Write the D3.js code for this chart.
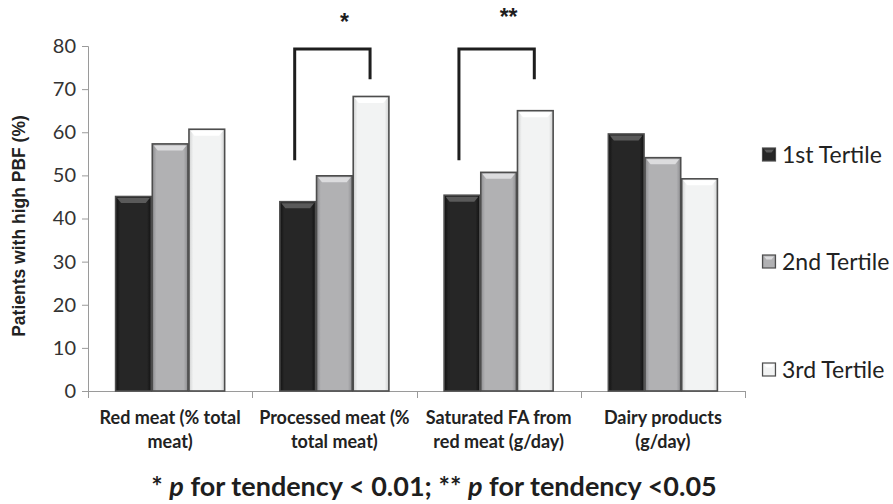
<!DOCTYPE html>
<html><head><meta charset="utf-8">
<script src="https://cdn.jsdelivr.net/npm/d3@7"></script>
<style>body{margin:0;background:#fff}svg{display:block}</style>
</head><body>
<svg id="c" width="893" height="504"></svg>
<script>
const categories = [
  ["Red meat (% total", "meat)"],
  ["Processed meat (%", "total meat)"],
  ["Saturated FA from", "red meat (g/day)"],
  ["Dairy products", "(g/day)"]
];
const seriesNames = ["1st Tertile", "2nd Tertile", "3rd Tertile"];
const tertile1 = [45.1, 43.9, 45.4, 59.6];
const tertile2 = [57.3, 49.9, 50.7, 54.1];
const tertile3 = [60.7, 68.3, 65.0, 49.2];
const yTicks = [0, 10, 20, 30, 40, 50, 60, 70, 80];
// significance brackets: category index, top value, left-leg bottom, right-leg bottom, marker
const brackets = [
  {cat: 1, top: 79.3, left: 53.5, right: 72.3, mark: "*"},
  {cat: 2, top: 79.3, left: 53.5, right: 72.3, mark: "**"}
];
const yTitle = "Patients with high PBF (%)";

const seriesVals = [tertile1, tertile2, tertile3];
const fills = [
  {base: "#262626", hi: "#5a5a5a", side: "#111"},
  {base: "#b1b1b3", hi: "#dcdcde", side: "#8d8d90"},
  {base: "#f2f3f3", hi: "#ffffff", side: "#cfd0d0"}
];

const svg = d3.select("#c");
const L = 88, R = 745, T = 46, B = 391;
const catIdx = categories.map((d, i) => i);
const x0 = d3.scaleBand().domain(catIdx).range([L, R]).paddingInner(0.33).paddingOuter(0.165);
const x1 = d3.scaleBand().domain([0, 1, 2]).range([0, x0.bandwidth()]);
const y = d3.scaleLinear().domain([0, 80]).range([B, T]);

const defs = svg.append("defs");
fills.forEach((f, i) => {
  const g = defs.append("linearGradient").attr("id", "g" + i).attr("x1", "0").attr("x2", "1").attr("y1", "0").attr("y2", "0");
  g.append("stop").attr("offset", "0").attr("stop-color", f.side);
  g.append("stop").attr("offset", "0.12").attr("stop-color", f.base);
  g.append("stop").attr("offset", "0.88").attr("stop-color", f.base);
  g.append("stop").attr("offset", "1").attr("stop-color", f.side);
});

// axes
const yAxis = d3.axisLeft(y).tickValues(yTicks).tickSize(6).tickPadding(6);
const yg = svg.append("g").attr("transform", `translate(${L},0)`).call(yAxis);
yg.select(".domain").attr("stroke", "#9a9a9a");
yg.selectAll(".tick line").attr("stroke", "#9a9a9a");
yg.selectAll(".tick text").attr("font-family", "Lato, 'Open Sans', sans-serif").attr("font-size", 20).attr("fill", "#333");

svg.append("line").attr("x1", L).attr("x2", R).attr("y1", B + 0.5).attr("y2", B + 0.5).attr("stroke", "#9a9a9a");
const bounds = catIdx.map(i => x0(i) - x0.step() * 0.165).concat([R]);
svg.selectAll(".xt").data(bounds).join("line")
  .attr("x1", d => Math.round(d) + 0.5).attr("x2", d => Math.round(d) + 0.5)
  .attr("y1", B).attr("y2", B + 7).attr("stroke", "#9a9a9a");

// bars
const barData = [];
seriesVals.forEach((vals, s) => vals.forEach((v, c) => barData.push({s, c, v})));
const bw = x1.bandwidth();
const gb = svg.append("g");
const bar = gb.selectAll("g").data(barData).join("g")
  .attr("transform", d => `translate(${x0(d.c) + x1(d.s)},0)`);
bar.append("rect")
  .attr("x", 0.5).attr("y", d => y(d.v)).attr("width", bw - 1).attr("height", d => B - y(d.v))
  .attr("fill", d => `url(#g${d.s})`).attr("stroke", "#4d4d4d").attr("stroke-width", 1.6);
bar.append("path")
  .attr("d", d => {
    const t = y(d.v) + 1.5;
    return `M2,${t} L${bw - 2},${t} L${bw - 6},${t + 5} L6,${t + 5} Z`;
  })
  .attr("fill", d => fills[d.s].hi);

// brackets
brackets.forEach(b => {
  const xl = x0(b.cat) + x1(0) + bw / 2 - 3;
  const xr = x0(b.cat) + x1(2) + bw / 2 - 1;
  svg.append("path")
    .attr("d", `M${xl},${y(b.left)} L${xl},${y(b.top)} L${xr},${y(b.top)} L${xr},${y(b.right)}`)
    .attr("fill", "none").attr("stroke", "#1e1e1e").attr("stroke-width", 3);
  svg.append("text").attr("x", (xl + xr) / 2 + 12).attr("y", b.mark.length > 1 ? 25 : 30)
    .attr("text-anchor", "middle").attr("font-family", "'Liberation Sans', Arial, sans-serif")
    .attr("font-weight", "bold").attr("font-size", 23).attr("fill", "#1e1e1e").text(b.mark);
});

// x labels
const xl = svg.append("g").attr("font-family", "Lato, 'Open Sans', sans-serif").attr("font-weight", "bold")
  .attr("font-size", 18).attr("fill", "#222").attr("text-anchor", "middle");
categories.forEach((lines, i) => {
  lines.forEach((ln, j) => {
    xl.append("text").attr("x", x0(i) + x0.bandwidth() / 2).attr("y", 424 + j * 24).text(ln);
  });
});

// y title
svg.append("text").attr("transform", `translate(25,226) rotate(-90)`).attr("text-anchor", "middle")
  .attr("font-family", "'Liberation Sans', Arial, sans-serif").attr("font-weight", "bold")
  .attr("font-size", 17.5).attr("fill", "#222").text(yTitle);

// legend
const ly = [155, 262, 370];
const lg = svg.append("g");
seriesNames.forEach((n, i) => {
  const g = lg.append("g").attr("transform", `translate(762,${ly[i]})`);
  g.append("rect").attr("x", 0.5).attr("y", -7).attr("width", 13).attr("height", 13)
    .attr("fill", `url(#g${i})`).attr("stroke", "#4d4d4d").attr("stroke-width", 1.2);
  g.append("path").attr("d", "M2,-5.5 L12,-5.5 L9.5,-2.5 L4.5,-2.5 Z").attr("fill", fills[i].hi);
  g.append("text").attr("x", 20).attr("y", 8).attr("font-family", "Lato, 'Open Sans', sans-serif")
    .attr("font-size", 23).attr("fill", "#222").text(n);
});

// footnote
const fn = svg.append("text").attr("x", 434).attr("y", 496).attr("text-anchor", "middle")
  .attr("font-family", "Lato, 'Open Sans', sans-serif").attr("font-weight", "bold").attr("font-size", 27).attr("fill", "#1e1e1e");
fn.append("tspan").text("* ");
fn.append("tspan").attr("font-style", "italic").text("p");
fn.append("tspan").text(" for tendency < 0.01; ** ");
fn.append("tspan").attr("font-style", "italic").text("p");
fn.append("tspan").text(" for tendency <0.05");
</script>
</body></html>
